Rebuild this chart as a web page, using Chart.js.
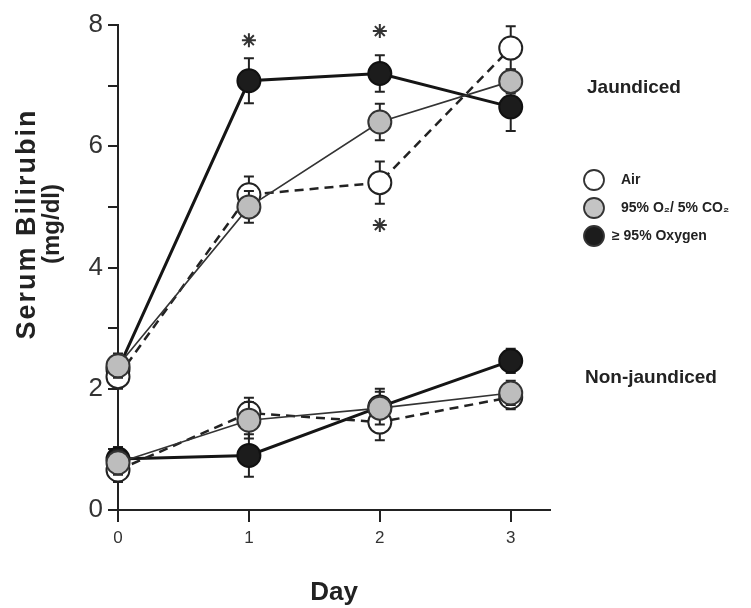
<!DOCTYPE html>
<html>
<head>
<meta charset="utf-8">
<script src="https://cdn.jsdelivr.net/npm/chart.js@4"></script>
<style>
  body { margin: 0; background: #fff; }
  canvas { display: block; }
</style>
</head>
<body>
<canvas id="bili" width="751" height="608"></canvas>
<script>
const days = [0, 1, 2, 3];

// jaundiced group
const jaundAir = [2.2, 5.2, 5.4, 7.62];
const jaundAirErr = [0.2, 0.3, 0.35, 0.36];
const jaundMix = [2.38, 5.0, 6.4, 7.07];
const jaundMixErr = [0.2, 0.26, 0.3, 0.2];
const jaundO2 = [2.32, 7.08, 7.2, 6.65];
const jaundO2Err = [0.2, 0.37, 0.3, 0.4];

// non-jaundiced group
const nonAir = [0.66, 1.6, 1.45, 1.86];
const nonAirErr = [0.2, 0.25, 0.3, 0.2];
const nonMix = [0.78, 1.48, 1.68, 1.93];
const nonMixErr = [0.2, 0.3, 0.27, 0.2];
const nonO2 = [0.84, 0.9, 1.7, 2.46];
const nonO2Err = [0.2, 0.35, 0.3, 0.2];

// significance marks
const starDays = [1, 2, 2];
const starValues = [7.75, 7.9, 4.7];

const seriesNames = ['Air', '95% O\u2082/ 5% CO\u2082', '\u2265 95% Oxygen'];
const yTicks = [0, 1, 2, 3, 4, 5, 6, 7, 8];

const pts = (vals) => vals.map((v, i) => ({ x: days[i], y: v }));

const styleAir = { borderColor: '#222', borderWidth: 2.5, borderDash: [9, 6], pointBackgroundColor: '#fff', pointBorderColor: '#222' };
const styleMix = { borderColor: '#333', borderWidth: 1.6, pointBackgroundColor: '#bdbdbd', pointBorderColor: '#333' };
const styleO2 = { borderColor: '#151515', borderWidth: 3, pointBackgroundColor: '#1c1c1c', pointBorderColor: '#111' };

function series(vals, errs, style) {
    return Object.assign({
        data: pts(vals),
        errors: errs,
        pointRadius: 11.5,
        pointBorderWidth: 2,
        tension: 0,
        clip: false
    }, style);
}

const errorBars = {
    id: 'errorBars',
    beforeDatasetDraw(chart, args) {
        const ds = chart.data.datasets[args.index];
        if (!ds.errors) return;
        const ctx = chart.ctx;
        const y = chart.scales.y;
        ctx.save();
        ctx.strokeStyle = '#222';
        ctx.lineWidth = 2;
        args.meta.data.forEach((p, i) => {
            const v = ds.data[i].y, e = ds.errors[i];
            const top = y.getPixelForValue(v + e), bot = y.getPixelForValue(v - e);
            ctx.beginPath();
            ctx.moveTo(p.x, top); ctx.lineTo(p.x, bot);
            ctx.moveTo(p.x - 5, top); ctx.lineTo(p.x + 5, top);
            ctx.moveTo(p.x - 5, bot); ctx.lineTo(p.x + 5, bot);
            ctx.stroke();
        });
        ctx.restore();
    }
};

const annotations = {
    id: 'annotations',
    afterDraw(chart) {
        const ctx = chart.ctx;
        ctx.save();
        ctx.fillStyle = '#222';
        // y axis title
        ctx.save();
        ctx.translate(28, 224);
        ctx.rotate(-Math.PI / 2);
        ctx.textAlign = 'center';
        ctx.textBaseline = 'middle';
        ctx.font = 'bold 27px "Liberation Sans", Arial, sans-serif';
        ctx.letterSpacing = '2px';
        ctx.fillText('Serum Bilirubin', 0, 0);
        ctx.letterSpacing = '0px';
        ctx.font = 'bold 24px "Liberation Sans", Arial, sans-serif';
        ctx.fillText('(mg/dl)', 0, 24);
        ctx.restore();

        // group labels
        ctx.textAlign = 'left';
        ctx.textBaseline = 'middle';
        ctx.font = 'bold 19px "Liberation Sans", Arial, sans-serif';
        ctx.fillText('Jaundiced', 587, 88);
        ctx.fillText('Non-jaundiced', 585, 378);

        // legend
        const fills = ['#fff', '#c4c4c4', '#1c1c1c'];
        const ys = [180, 208, 236];
        ctx.font = 'bold 14px "Liberation Sans", Arial, sans-serif';
        ys.forEach((yy, i) => {
            ctx.beginPath();
            ctx.arc(594, yy, 10, 0, Math.PI * 2);
            ctx.fillStyle = fills[i];
            ctx.fill();
            ctx.lineWidth = 1.8;
            ctx.strokeStyle = '#333';
            ctx.stroke();
            ctx.fillStyle = '#222';
            ctx.fillText(seriesNames[i], i === 2 ? 612 : 621, yy);
        });
        ctx.restore();
    }
};

new Chart(document.getElementById('bili'), {
    type: 'line',
    data: {
        datasets: [
            series(jaundMix, jaundMixErr, styleMix),
            series(jaundAir, jaundAirErr, styleAir),
            series(jaundO2, jaundO2Err, styleO2),
            series(nonMix, nonMixErr, styleMix),
            series(nonAir, nonAirErr, styleAir),
            series(nonO2, nonO2Err, styleO2),
            {
                data: starDays.map((d, i) => ({ x: d, y: starValues[i] })),
                showLine: false,
                pointStyle: 'star',
                pointRadius: 7,
                pointBorderWidth: 2,
                pointBorderColor: '#333',
                clip: false
            }
        ]
    },
    options: {
        responsive: false,
        animation: false,
        devicePixelRatio: 1,
        layout: { padding: { top: 25, right: 201, left: 0, bottom: 0 } },
        plugins: { legend: { display: false }, tooltip: { enabled: false } },
        scales: {
            x: {
                type: 'linear',
                min: 0,
                max: 3.3,
                afterBuildTicks: s => { s.ticks = days.map(v => ({ value: v })); },
                afterFit: s => { s.height = 98; },
                border: { color: '#222', width: 2 },
                grid: { drawOnChartArea: false, tickLength: 12, color: '#222', lineWidth: 2 },
                ticks: { color: '#333', padding: 6, font: { size: 17, family: '"Liberation Sans", Arial, sans-serif' } },
                title: {
                    display: true,
                    text: 'Day',
                    color: '#222',
                    padding: { top: 0, bottom: 0 },
                    font: { size: 26, weight: 'bold', family: '"Liberation Sans", Arial, sans-serif' }
                }
            },
            y: {
                min: 0,
                max: 8,
                afterBuildTicks: s => { s.ticks = yTicks.map(v => ({ value: v })); },
                afterFit: s => { s.width = 118; },
                border: { color: '#222', width: 2 },
                grid: { drawOnChartArea: false, tickLength: 10, color: '#222', lineWidth: 2 },
                ticks: {
                    color: '#333',
                    padding: 5,
                    font: { size: 26, family: '"Liberation Sans", Arial, sans-serif' },
                    callback: v => (v % 2 === 0 ? v : '')
                }
            }
        }
    },
    plugins: [errorBars, annotations]
});
</script>
</body>
</html>
